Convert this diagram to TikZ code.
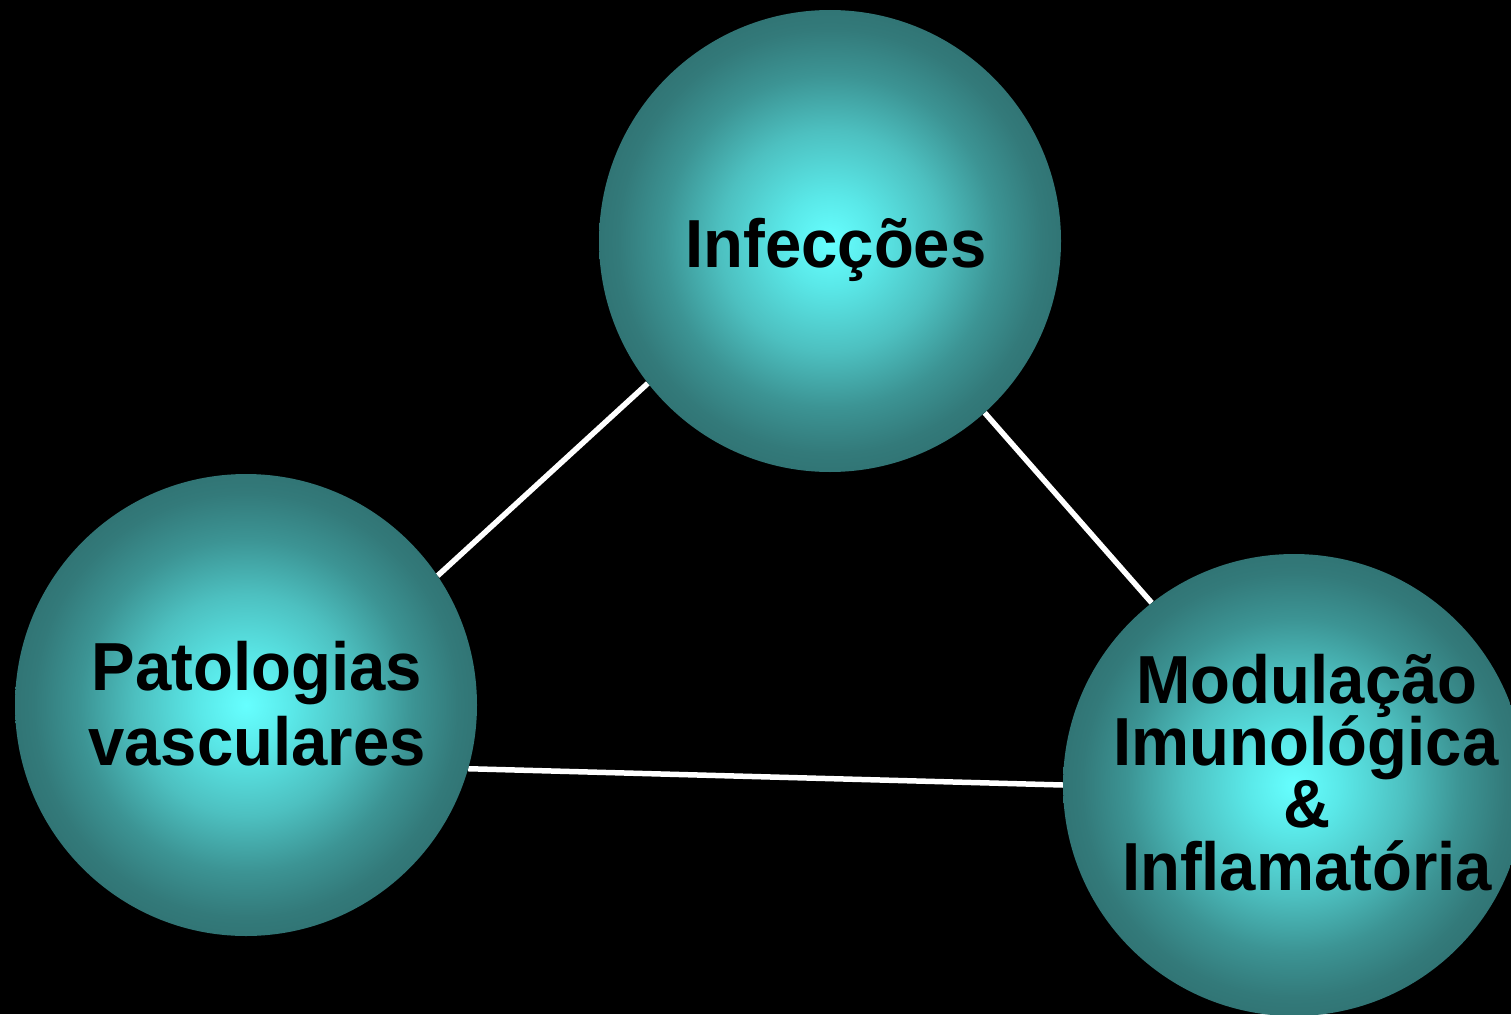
\documentclass[tikz,border=0pt]{standalone}
\usepackage{fontspec}
\setmainfont{Liberation Sans}
\newfontfamily\lblfont{Liberation Sans}[FakeStretch=0.96]
\definecolor{cA}{HTML}{66FFFF}
\definecolor{cB}{HTML}{5AE8E8}
\definecolor{cC}{HTML}{4DC0C0}
\definecolor{cD}{HTML}{3C9494}
\definecolor{cE}{HTML}{337A7A}
\definecolor{cF}{HTML}{317575}
\pgfdeclareradialshading{tealball}{\pgfpoint{0bp}{0bp}}{color(0bp)=(cA); color(5bp)=(cB); color(12bp)=(cC); color(18bp)=(cD); color(23bp)=(cE); color(25bp)=(cF); color(50bp)=(cF)}
\begin{document}
\begin{tikzpicture}[x=1pt,y=-1pt,
  ball/.style={circle, minimum size=462pt, inner sep=0pt, shading=tealball},
  lbl/.style={anchor=base, text=black, inner sep=0pt, font=\lblfont\fontsize{68}{76}\bfseries\selectfont},
  link/.style={draw=white, line width=5.5pt}]
\fill[black] (0,0) rectangle (1511,1014);
\useasboundingbox (0,0) rectangle (1511,1014);
\clip (0,0) rectangle (1511,1014);
\coordinate (c1) at (830,241);
\coordinate (c2) at (246,705);
\coordinate (c3) at (1294,785);
\node[circle, minimum size=462pt, inner sep=0pt] (b1p) at (c1) {};
\node[circle, minimum size=462pt, inner sep=0pt] (b2p) at (c2) {};
\node[circle, minimum size=462pt, inner sep=0pt] (b3p) at (c3) {};
\draw[link] (b1p.218) -- (b2p.34.3);
\draw[link] (b1p.312.2) -- (b3p.128.9);
\draw[link] (b2p.-16.4) -- (b3p.180);
\node[ball] (b1) at (c1) {};
\node[ball] (b2) at (c2) {};
\node[ball] (b3) at (c3) {};
\node[lbl] (t1) at (836,267) {Infecções};
\node[lbl] (t2a) at (257,690) {Patologias};
\node[lbl] (t2b) at (257,765) {vasculares};
\node[lbl] (t3a) at (1307,703) {Modulação};
\node[lbl] (t3b) at (1306,765) {Imunológica};
\node[lbl] (t3c) at (1307,827) {\&};
\node[lbl] (t3d) at (1307,890) {Inflamatória};
\end{tikzpicture}
\end{document}
